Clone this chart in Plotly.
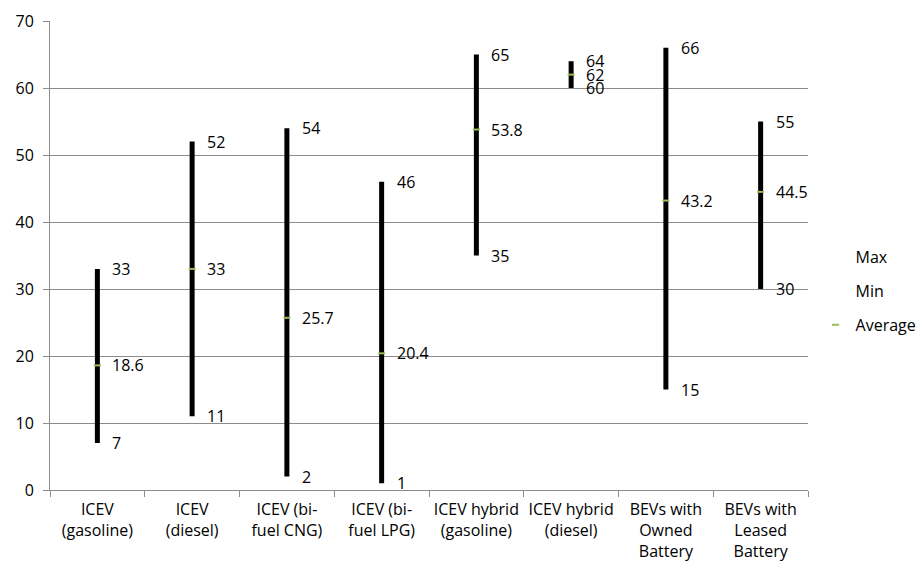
import plotly.graph_objects as go

# Vehicle categories (multi-line axis labels)
categories = [
    "ICEV<br>(gasoline)",
    "ICEV<br>(diesel)",
    "ICEV (bi-<br>fuel CNG)",
    "ICEV (bi-<br>fuel LPG)",
    "ICEV hybrid<br>(gasoline)",
    "ICEV hybrid<br>(diesel)",
    "BEVs with<br>Owned<br>Battery",
    "BEVs with<br>Leased<br>Battery",
]
max_vals = [33, 52, 54, 46, 65, 64, 66, 55]
min_vals = [7, 11, 2, 1, 35, 60, 15, 30]
avg_vals = [18.6, 33, 25.7, 20.4, 53.8, 62, 43.2, 44.5]

FONT = "Open Sans"
FS = 16
GRID = "#8c8c8c"
AVG_COLOR = "#9bbb59"

fig = go.Figure()

# High-low lines from min to max for each category
hl_x, hl_y = [], []
for c, lo, hi in zip(categories, min_vals, max_vals):
    hl_x += [c, c, None]
    hl_y += [lo, hi, None]
fig.add_trace(go.Scatter(
    x=hl_x, y=hl_y, mode="lines",
    line=dict(color="black", width=5),
    showlegend=False, hoverinfo="skip",
))

# Max and Min series: no visible marker, only legend entries
for name, vals in (("Max", max_vals), ("Min", min_vals)):
    fig.add_trace(go.Scatter(
        x=categories, y=vals, mode="markers", name=name,
        marker=dict(size=6, color="rgba(0,0,0,0)"),
        legendgroup=name,
    ))

# Average markers
fig.add_trace(go.Scatter(
    x=categories, y=avg_vals, mode="markers", name="Average",
    marker=dict(symbol="line-ew", size=5, line=dict(width=2, color=AVG_COLOR), color=AVG_COLOR),
    legendgroup="Average",
))

# Value labels to the right of each mark
def fmt(v):
    return f"{v:g}"

for vals in (max_vals, min_vals, avg_vals):
    for c, v in zip(categories, vals):
        fig.add_annotation(
            x=c, y=v, text=fmt(v), showarrow=False,
            xanchor="left", yanchor="middle", xshift=13,
            font=dict(family=FONT, size=FS, color="black"),
        )

fig.update_layout(
    width=920, height=571,
    margin=dict(l=50, r=112, t=21, b=81, autoexpand=False),
    paper_bgcolor="white", plot_bgcolor="white",
    font=dict(family=FONT, size=FS, color="black"),
    legend=dict(
        x=1.01, y=0.424, xanchor="left", yanchor="middle",
        font=dict(family=FONT, size=FS, color="black"),
        itemwidth=30, tracegroupgap=10, traceorder="grouped",
        bgcolor="rgba(0,0,0,0)",
    ),
    showlegend=True,
)
fig.update_xaxes(
    type="category", categoryorder="array", categoryarray=categories,
    showline=True, linecolor=GRID, linewidth=1,
    ticks="outside", tickson="boundaries", ticklen=6, tickcolor=GRID,
    ticklabelstandoff=5, tickangle=0,
    showgrid=False, tickfont=dict(family=FONT, size=FS, color="black"),
    range=[-0.5, 7.5],
)
fig.update_yaxes(
    range=[0, 70], dtick=10, showline=True, linecolor=GRID, linewidth=1,
    ticks="outside", ticklen=6, tickcolor=GRID,
    ticklabelstandoff=6,
    showgrid=True, gridcolor=GRID, gridwidth=1, zeroline=False,
    tickfont=dict(family=FONT, size=FS, color="black"),
)

fig.write_html("out.html")
